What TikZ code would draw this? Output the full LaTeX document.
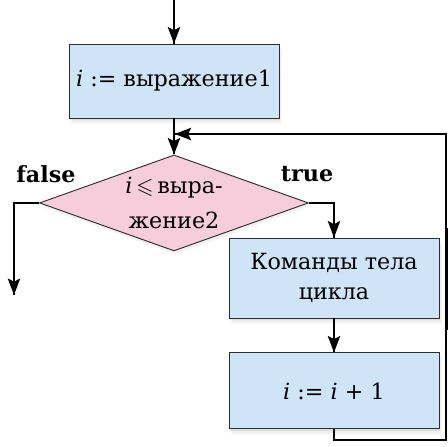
\documentclass[tikz,border=0pt]{standalone}
\usepackage{amssymb}
\usepackage{fontspec}
\setmainfont{DejaVu Serif}
\usepackage{tikz}
\usetikzlibrary{positioning,shapes.geometric,shadows}

\definecolor{boxblue}{HTML}{CFE4F7}
\definecolor{condpink}{HTML}{F6CDDA}
\definecolor{linegray}{HTML}{2E2E2E}

% arrow heads drawn as plain filled outlines
\newcommand{\tipdown}[1]{\fill[black] (#1) -- ++(-0.19,0.5) -- ++(0.19,-0.1) -- ++(0.19,0.1) -- cycle;}
\newcommand{\tipleft}[1]{\fill[black] (#1) -- ++(0.5,0.19) -- ++(-0.1,-0.19) -- ++(0.1,-0.19) -- cycle;}

\begin{document}
\begin{tikzpicture}[
    font=\fontsize{19}{25}\selectfont,
    soft/.style={drop shadow={draw=none, shadow xshift=0.9mm, shadow yshift=-1.8mm, fill=black!5},
      drop shadow={draw=none, shadow xshift=0.6mm, shadow yshift=-1.2mm, fill=black!10},
      drop shadow={draw=none, shadow xshift=0.3mm, shadow yshift=-0.7mm, fill=black!18}},
    box/.style={draw=linegray, line width=0.8pt, fill=boxblue, minimum width=6.3cm, minimum height=2.3cm, align=center, soft},
    cond/.style={diamond, draw=linegray, line width=0.8pt, fill=condpink, aspect=2.8, minimum width=8.07cm, minimum height=2.88cm,
      inner sep=0pt, align=center,
      drop shadow={draw=none, shadow xshift=0.3mm, shadow yshift=-1mm, fill=black!10}},
    lbl/.style={font=\fontsize{19}{25}\selectfont\bfseries},
    arr/.style={draw=black, line width=1pt}
  ]
    \useasboundingbox (-5.22,2.43) rectangle (8.22,-10.95);
    \coordinate (start) at (0,2.43);
    \node[box, minimum height=2.22cm] (init) at (0,0) {\textit{i} := выражение1};
    \node[cond, below=1.08cm of init] (check) {\textit{i}\,$\leqslant$\,выра-\\[5pt]жение2};
    \node[box, minimum height=2.4cm] (body) at (4.8,-5.91) {Команды тела\\цикла};
    \node[box, minimum height=2.28cm, below=1.02cm of body] (incr) {\textit{i} := \textit{i} + 1};
    \node[lbl] (no) at (-3.84,-2.79) {false};
    \node[lbl] (yes) at (3.99,-2.79) {true};
    \coordinate (join) at (0.02,-1.59);
    \coordinate (exit) at (-4.8,-6.42);
    \coordinate (bottom) at (8.16,-10.77);
    \draw[arr] (start) -- (init);
    \draw[arr] (init) -- (check);
    \draw[arr] (check.west) -| (exit);
    \draw[arr] (check.east) -| (body.north);
    \draw[arr] (body) -- (incr);
    \draw[arr] (incr.south) |- (bottom) |- (join);
    \draw[line width=2.4pt] (8.17,-4.41) -- (8.17,-7.47);
    \tipdown{init.north}
    \tipdown{check.north}
    \tipdown{exit}
    \tipdown{body.north}
    \tipdown{incr.north}
    \tipleft{join}
  \end{tikzpicture}
\end{document}
